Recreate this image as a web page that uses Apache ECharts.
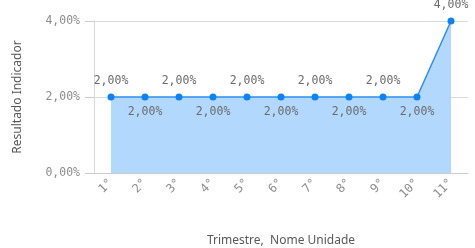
<!DOCTYPE html>
<html>
<head>
<meta charset="utf-8">
<script src="https://cdn.jsdelivr.net/npm/echarts@6/dist/echarts.min.js"></script>
<style>
  html, body { margin: 0; padding: 0; background: #fff; }
  #chart { width: 475px; height: 248px; }
</style>
</head>
<body>
<div id="chart"></div>
<script>
var categories = ['1°', '2°', '3°', '4°', '5°', '6°', '7°', '8°', '9°', '10°', '11°'];
var values = [2, 2, 2, 2, 2, 2, 2, 2, 2, 2, 4];
var yTicks = [0, 2, 4];

function pct(v) {
    return v.toFixed(2).replace('.', ',') + '%';
}

// rotulos alternados: em cima / embaixo
var seriesData = values.map(function (v, i) {
    return {
        value: v,
        label: { position: i % 2 === 0 ? 'top' : 'bottom' }
    };
});

var option = {
    animation: false,
    grid: {
        top: 21,
        left: 94,
        right: 7,
        bottom: 75,
        outerBoundsMode: 'none'
    },
    xAxis: {
        type: 'category',
        data: categories,
        boundaryGap: true,
        name: 'Trimestre,  Nome Unidade',
        nameLocation: 'middle',
        nameGap: 62,
        nameTextStyle: {
            color: '#595959',
            fontFamily: 'Noto Sans',
            fontSize: 12
        },
        axisLine: { show: true, lineStyle: { color: '#cccccc' } },
        axisTick: { show: false },
        axisLabel: {
            rotate: 45,
            color: '#8c8c8c',
            fontFamily: 'DejaVu Sans Mono',
            fontSize: 12,
            margin: 8
        }
    },
    yAxis: {
        type: 'value',
        min: yTicks[0],
        max: yTicks[yTicks.length - 1],
        interval: yTicks[1] - yTicks[0],
        name: 'Resultado Indicador',
        nameLocation: 'middle',
        nameGap: 70,
        nameTextStyle: {
            color: '#595959',
            fontFamily: 'Noto Sans',
            fontSize: 12
        },
        axisLine: { show: true, lineStyle: { color: '#d9d9d9' } },
        axisTick: { show: true, length: 9, lineStyle: { color: '#cccccc' } },
        splitLine: { lineStyle: { color: '#d9d9d9' } },
        axisLabel: {
            color: '#8c8c8c',
            fontFamily: 'DejaVu Sans Mono',
            fontSize: 11.5,
            margin: 14,
            formatter: pct
        }
    },
    series: [{
        type: 'line',
        data: seriesData,
        symbol: 'circle',
        symbolSize: 7,
        lineStyle: { color: '#2e8ef0', width: 1.5 },
        itemStyle: { color: '#0a84f5' },
        areaStyle: { color: '#b3d8fd', opacity: 1 },
        label: {
            show: true,
            color: '#6b6b6b',
            fontFamily: 'DejaVu Sans Mono',
            fontSize: 11.5,
            distance: 6,
            formatter: function (p) { return pct(p.value); }
        }
    }]
};

var myChart = echarts.init(document.getElementById('chart'));
myChart.setOption(option);
</script>
</body>
</html>
